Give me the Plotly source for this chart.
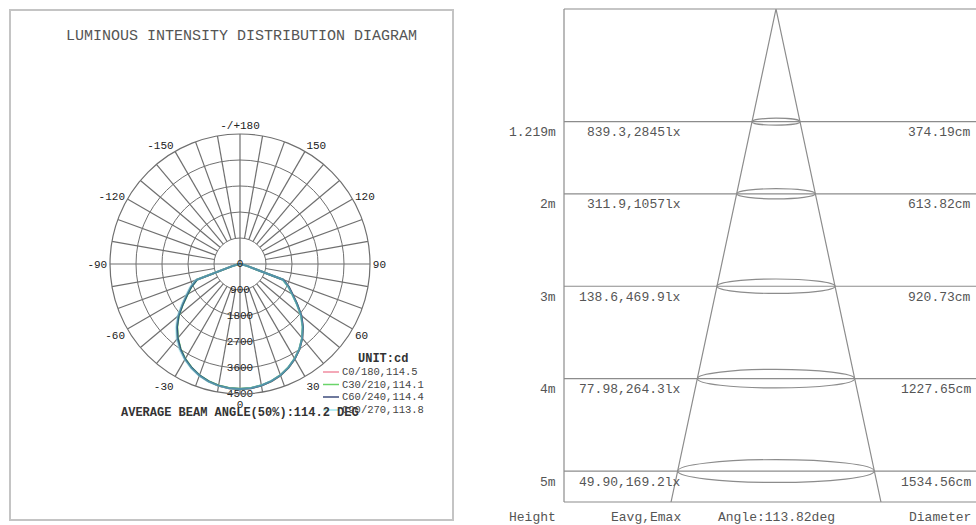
import plotly.graph_objects as go

W, H = 976, 525
FONT = "Liberation Mono"

# ---- polar luminous intensity data (cd), gamma -90..90 in 5 deg steps ----
gamma = list(range(-90, 95, 5))
c0_180 = [0, 15, 60, 260, 1600, 1870, 2110, 2420, 2780, 3090, 3360, 3600, 3800, 3970, 4110, 4210, 4280, 4320,
          4330,
          4320, 4275, 4205, 4105, 3965, 3795, 3595, 3355, 3085, 2775, 2415, 2105, 1865, 1595, 255, 60, 15, 0]
c30_210 = [0, 15, 55, 250, 1580, 1850, 2090, 2400, 2760, 3070, 3345, 3585, 3790, 3960, 4100, 4200, 4270, 4310,
           4320,
           4310, 4265, 4195, 4095, 3955, 3785, 3585, 3345, 3065, 2755, 2395, 2085, 1845, 1575, 245, 55, 15, 0]
c60_240 = [0, 15, 60, 255, 1595, 1865, 2105, 2415, 2775, 3085, 3355, 3595, 3800, 3965, 4105, 4205, 4275, 4315,
           4325,
           4315, 4270, 4200, 4100, 3960, 3790, 3590, 3350, 3080, 2770, 2410, 2100, 1860, 1590, 250, 60, 15, 0]
c90_270 = [0, 20, 70, 290, 1640, 1920, 2160, 2470, 2830, 3140, 3410, 3640, 3830, 3990, 4120, 4220, 4285, 4320,
           4330,
           4310, 4260, 4190, 4090, 3950, 3780, 3580, 3340, 3060, 2740, 2380, 2070, 1830, 1560, 240, 55, 15, 0]

# drawing order: the cyan plane sits on top of the others
planes = [
    ("C0/180,114.5", c0_180, "#f08ca0", 1.0),
    ("C30/210,114.1", c30_210, "#6ad46a", 1.0),
    ("C60/240,114.4", c60_240, "#30577a", 1.0),
    ("C90/270,113.8", c90_270, "#7fdde8", 0.45),
]
legend_order = ["C0/180,114.5", "C30/210,114.1", "C60/240,114.4", "C90/270,113.8"]
legend_color = {"C0/180,114.5": "#f08ca0", "C30/210,114.1": "#6ad46a",
                "C60/240,114.4": "#3e4d7c", "C90/270,113.8": "#9fe6ee"}

radial_ticks = [0, 900, 1800, 2700, 3600, 4500]
angle_ticks = [0, 30, 60, 90, 120, 150, 180, 210, 240, 270, 300, 330]
angle_text = ["0", "30", "60", "90", "120", "150", "-/+180", "-150", "-120", "-90", "-60", "-30"]

# ---- illuminance / beam-spread data ----
heights = [1.219, 2, 3, 4, 5]
height_labels = ["1.219m", "2m", "3m", "4m", "5m"]
eavg_emax = ["839.3,2845lx", "311.9,1057lx", "138.6,469.9lx", "77.98,264.3lx", "49.90,169.2lx"]
diameter_cm = [374.19, 613.82, 920.73, 1227.65, 1534.56]
beam_angle = 113.82


def px(x):
    return x / W


def py(y):
    return 1 - y / H


fig = go.Figure()

GRID = "#6f6f6f"
# spokes every 10 deg, starting at the first ring except the main axes
spoke_r, spoke_t = [], []
for a in range(0, 360, 10):
    r0 = 0 if a % 90 == 0 else radial_ticks[1]
    spoke_r += [r0, radial_ticks[-1], None]
    spoke_t += [a, a, None]
fig.add_trace(go.Scatterpolar(r=spoke_r, theta=spoke_t, mode="lines",
                              line=dict(color=GRID, width=1.2), hoverinfo="skip",
                              showlegend=False, subplot="polar"))

for name, vals, col, op in planes:
    fig.add_trace(go.Scatterpolar(r=vals, theta=gamma, mode="lines", name=name,
                                  line=dict(color=col, width=2), opacity=op,
                                  showlegend=False, subplot="polar"))

# radial value labels along the 0 deg direction
fig.add_trace(go.Scatterpolar(r=radial_ticks, theta=[0] * len(radial_ticks), mode="text",
                              text=[str(v) for v in radial_ticks],
                              textfont=dict(family=FONT, size=11, color="#222222"),
                              showlegend=False, cliponaxis=False, hoverinfo="skip",
                              subplot="polar"))

# ---- cone diagram ----
diam_m = [d / 100 for d in diameter_cm]
h_floor = 5.335
slope = diam_m[-1] / 2 / heights[-1]
LINE = "#8c8c8c"
fig.add_trace(go.Scatter(x=[-slope * h_floor, 0, slope * h_floor], y=[h_floor, 0, h_floor],
                         mode="lines", line=dict(color=LINE, width=1.2),
                         xaxis="x2", yaxis="y2", showlegend=False, hoverinfo="skip"))

shapes = []
# outer frame of the left panel
shapes.append(dict(type="rect", xref="paper", yref="paper", x0=px(10), x1=px(453), y0=py(520), y1=py(10),
                   line=dict(color="#c4c4c4", width=2)))
# cone panel frame (open on the right)
shapes.append(dict(type="line", xref="x2 domain", yref="y2 domain", x0=0, x1=0, y0=0, y1=1,
                   line=dict(color=LINE, width=1.2)))
shapes.append(dict(type="line", xref="x2 domain", yref="y2 domain", x0=0, x1=1, y0=1, y1=1,
                   line=dict(color=LINE, width=1.2)))
shapes.append(dict(type="line", xref="x2 domain", yref="y2 domain", x0=0, x1=1, y0=0, y1=0,
                   line=dict(color=LINE, width=1.2)))
for h, d in zip(heights, diam_m):
    shapes.append(dict(type="line", xref="x2 domain", yref="y2", x0=0, x1=1, y0=h, y1=h,
                       line=dict(color=LINE, width=1.2)))
    e = 0.010 + 0.0074 * d
    shapes.append(dict(type="circle", xref="x2", yref="y2", x0=-d / 2, x1=d / 2, y0=h - e, y1=h + e,
                       line=dict(color=LINE, width=1.2)))

# legend swatches
leg_y = [372, 384.5, 397, 410]
for name, y in zip(legend_order, leg_y):
    shapes.append(dict(type="line", xref="paper", yref="paper", x0=px(323), x1=px(339), y0=py(y), y1=py(y),
                       line=dict(color=legend_color[name], width=1.5)))

ann = []


def text(x, y, s, size=13, color="#555555", anchor="center", ref=("paper", "paper"), yshift=0, bold=False):
    ann.append(dict(x=x, y=y, xref=ref[0], yref=ref[1], text=f"<b>{s}</b>" if bold else s,
                    showarrow=False, xanchor=anchor, yanchor="middle", yshift=yshift,
                    font=dict(family=FONT, size=size, color=color)))


text(px(241), py(36), "LUMINOUS INTENSITY DISTRIBUTION DIAGRAM", size=15, color="#555555")
text(px(240), py(413), "AVERAGE BEAM ANGLE(50%):114.2 DEG", size=12, color="#333333", bold=True)
text(px(356), py(359), "UNIT:cd", size=12, color="#333333", anchor="left", bold=True)
for name, y in zip(legend_order, leg_y):
    text(px(340), py(y), name, size=10.5, color="#444444", anchor="left")

for h, hl, ee, d in zip(heights, height_labels, eavg_emax, diameter_cm):
    text(px(558), h, hl, ref=("paper", "y2"), anchor="right", yshift=-11)
    text(px(683), h, ee, ref=("paper", "y2"), anchor="right", yshift=-11)
    text(px(973), h, f"{d:.2f}cm", ref=("paper", "y2"), anchor="right", yshift=-11)

text(px(558), py(517), "Height", anchor="right")
text(px(683), py(517), "Eavg,Emax", anchor="right")
text(0, py(517), f"Angle:{beam_angle:.2f}deg", ref=("x2", "paper"))
text(px(973), py(517), "Diameter", anchor="right")

x_scale = 12.82  # px per metre across the cone
fig.update_layout(
    width=W, height=H,
    margin=dict(l=0, r=0, t=0, b=0),
    paper_bgcolor="white", plot_bgcolor="white",
    showlegend=False,
    polar=dict(
        domain=dict(x=[px(110), px(370)], y=[py(394), py(134)]),
        bgcolor="white",
        radialaxis=dict(range=[0, 4500], tickvals=radial_ticks[1:-1], showticklabels=False,
                        ticks="", showline=False, gridcolor=GRID, gridwidth=1.2),
        angularaxis=dict(rotation=-90, direction="counterclockwise", tickmode="array",
                         tickvals=angle_ticks, ticktext=angle_text, showgrid=False,
                         showline=True, linecolor=GRID, linewidth=1.2, ticks="",
                         tickfont=dict(family=FONT, size=11, color="#222222")),
    ),
    xaxis2=dict(domain=[px(564), 1], range=[(564 - 776) / x_scale, (976 - 776) / x_scale],
                visible=False, anchor="y2"),
    yaxis2=dict(domain=[py(502), py(9)], range=[h_floor, 0], visible=False, anchor="x2"),
    shapes=shapes,
    annotations=ann,
)

fig.write_html("out.html")
